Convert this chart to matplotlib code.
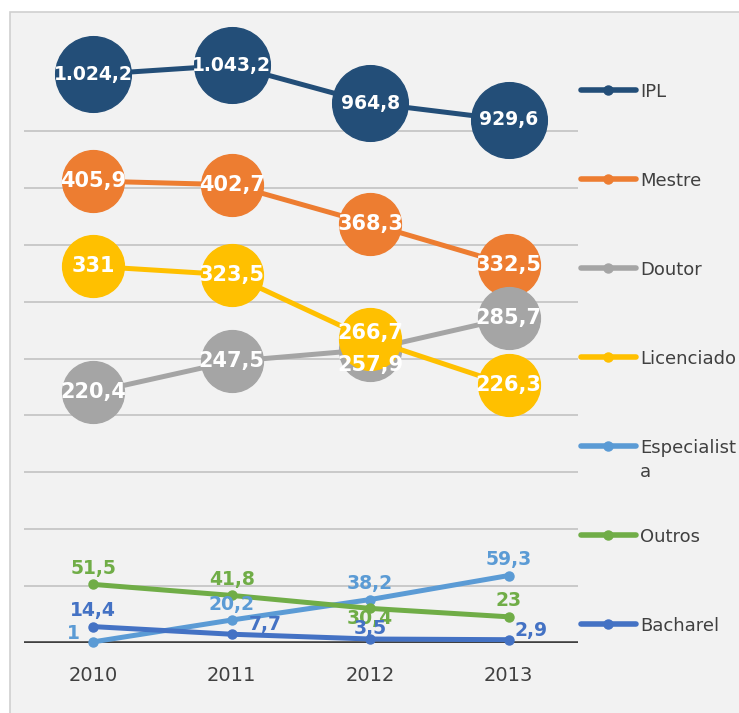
import matplotlib.pyplot as plt
from matplotlib.lines import Line2D
from matplotlib.patches import Rectangle

years = ["2010", "2011", "2012", "2013"]
ipl = [1024.2, 1043.2, 964.8, 929.6]
mestre = [405.9, 402.7, 368.3, 332.5]
doutor = [220.4, 247.5, 257.9, 285.7]
licenciado = [331, 323.5, 266.7, 226.3]
especialista = [1, 20.2, 38.2, 59.3]
outros = [51.5, 41.8, 30.4, 23]
bacharel = [14.4, 7.7, 3.5, 2.9]

names = ["IPL", "Mestre", "Doutor", "Licenciado", "Especialist\na", "Outros", "Bacharel"]
series = [ipl, mestre, doutor, licenciado, especialista, outros, bacharel]
colors = ["#234E78", "#ED7D31", "#A5A5A5", "#FFC000", "#5B9BD5", "#70AD47", "#4472C4"]

# data label placement per series (Excel style)
label_pos = [
    ["center"] * 4,
    ["center"] * 4,
    ["center", "center", "below_big", "center"],
    ["center", "center", "up", "center"],
    ["left", "above", "above", "above"],
    ["above", "above", "below", "above"],
    ["above", "right2", "above2", "right"],
]

W, H = 739, 713
PX = 0.72  # points per pixel at dpi 100
TXT = "#404040"


def fmt(v):
    if v == int(v):
        return str(int(v))
    s = f"{v:,.1f}"
    return s.replace(",", "X").replace(".", ",").replace("X", ".")


# (dx px, dy px, ha)
offsets = {
    "center": (0, 0, "center"),
    "up": (0, 6, "center"),
    "below_big": (0, -15, "center"),
    "below": (0, -10, "center"),
    "above": (0, 16, "center"),
    "above2": (0, 11, "center"),
    "left": (-20, 8, "center"),
    "right": (6, 9, "left"),
    "right2": (17, 10, "left"),
}

fig = plt.figure(figsize=(W / 100, H / 100), dpi=100)
fig.patch.set_facecolor("white")
fig.patches.append(Rectangle((10 / W, -0.05), 1.1, 1 - 12 / H + 0.05,
                             transform=fig.transFigure, facecolor="#F2F2F2",
                             edgecolor="#D0D0D0", lw=1.2, zorder=-1))

ax = fig.add_axes([24 / W, 1 - 643 / H, 554 / W, 630 / H])
ax.set_facecolor("none")
ax.set_xlim(-0.5, 3.5)
ax.set_ylim(0, 630 / 1.138)

# IPL sits on its own (hidden) secondary scale
ax2 = ax.twinx()
ax2.set_ylim(-156.6, -156.6 + 630 / 0.4815)
ax2.axis("off")

ax.set_yticks(range(50, 451, 50))
ax.yaxis.grid(True, color="#BFBFBF", lw=1.1)
ax.set_axisbelow(True)
ax.tick_params(axis="y", left=False, right=False, labelleft=False, labelright=False)
ax.set_xticks(range(len(years)))
ax.set_xticklabels(years, fontsize=14, color=TXT)
ax.tick_params(axis="x", bottom=False, pad=13)
for s in ax.spines.values():
    s.set_visible(False)
ax.axhline(0, color="#404040", lw=2.6, zorder=1.5)

x = list(range(len(years)))
for i, (name, vals, c) in enumerate(zip(names, series, colors)):
    a = ax2 if i == 0 else ax
    if i == 0:
        ms = 54.5
    elif i < 4:
        ms = 44.5
    else:
        ms = 6.5
    a.plot(x, vals, color=c, lw=3.6, marker="o", ms=ms, mec=c, mfc=c,
           solid_capstyle="round", zorder=2 + i * 0.1, clip_on=False)

for i, (vals, c) in enumerate(zip(series, colors)):
    a = ax2 if i == 0 else ax
    big = i < 4
    if i == 0:
        fs = 13.5
    elif big:
        fs = 15
    else:
        fs = 13.5
    for xi, v, pos in zip(x, vals, label_pos[i]):
        dx, dy, ha = offsets[pos]
        a.annotate(fmt(v), (xi, v), xytext=(dx * PX, dy * PX), textcoords="offset points",
                   ha=ha, va="center", fontsize=fs,
                   fontweight="bold", color="white" if big else c, zorder=10,
                   annotation_clip=False)

# legend on the right
for i, (name, c) in enumerate(zip(names, colors)):
    yp = 90 + 89 * i
    yf = 1 - yp / H
    fig.add_artist(Line2D([581 / W, 636 / W], [yf, yf], transform=fig.transFigure,
                          color=c, lw=4, solid_capstyle="round"))
    fig.add_artist(Line2D([608 / W], [yf], transform=fig.transFigure,
                          color=c, marker="o", ms=6.5, lw=0))
    fig.text(640 / W, 1 - (yp - 7) / H, name, fontsize=13, color=TXT,
             va="top", ha="left", linespacing=1.45)

fig.savefig("out.png", dpi=100)
